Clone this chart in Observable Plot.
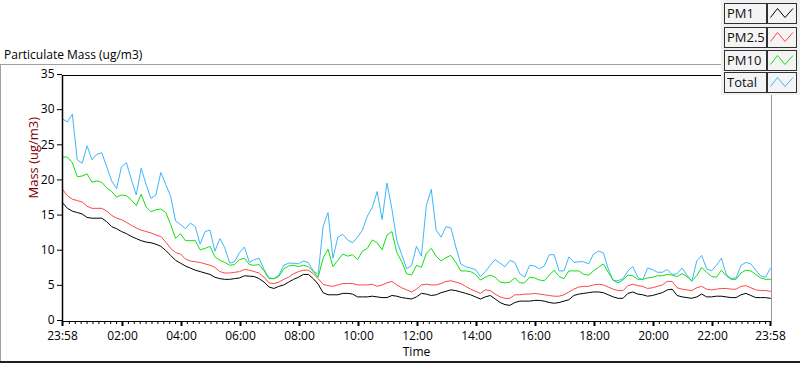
<!DOCTYPE html>
<html>
<head>
<meta charset="utf-8">
<script src="https://cdn.jsdelivr.net/npm/d3@7"></script>
<script src="https://cdn.jsdelivr.net/npm/@observablehq/plot@0.6"></script>
<style>
  html, body { margin: 0; padding: 0; background: #ffffff; }
  #wrap { position: relative; width: 800px; height: 365px; overflow: hidden; font-family: "Segoe UI", "Open Sans", sans-serif; }
  #chart { position: absolute; left: 0; top: 0; }
  .title { position: absolute; left: 4px; top: 46px; font-size: 12px; color: #000; white-space: nowrap; }
  .hline { position: absolute; background: #a0a0a0; }
  #legend { position: absolute; left: 721px; top: 0; width: 79px; height: 95px; background: #f0f0f0; }
  .lab { position: absolute; left: 3px; width: 39px; height: 19px; border: 1px solid #303030; background: #f4f4f4;
         font-size: 13px; line-height: 19px; padding-left: 2px; box-sizing: content-box; color: #111; }
  .sw { position: absolute; left: 46px; width: 28px; height: 19px; border: 1px solid #303030; background: #f4f4f4; }
  .sw svg { position: absolute; left: 0; top: 0; }
</style>
</head>
<body>
<div id="wrap">
  <div id="chart"></div>
  <div class="title">Particulate Mass (ug/m3)</div>
  <div class="hline" style="left:0;top:64px;width:721px;height:1px;"></div>
  <div class="hline" style="left:0;top:64px;width:1px;height:298px;"></div>
  <div class="hline" style="left:0;top:361px;width:800px;height:2px;background:#202020;"></div>
  <div id="legend"></div>
</div>
<script>
// ---- data (10-minute samples starting 23:58) ----
const startLabel = "23:58";
const stepMinutes = 10;
const seriesNames = ["PM1", "PM2.5", "PM10", "Total"];
const seriesColors = ["#000000", "#ff4646", "#10e010", "#3fb6fa"];

const pm1 = [
16.9,16.1,15.7,15.5,15.3,14.8,14.7,14.7,14.7,14.2,
13.5,13.2,12.8,12.5,12.1,11.8,11.5,11.3,11.2,11.0,
10.7,10.1,9.4,8.7,8.3,7.9,7.6,7.3,7.1,6.9,
6.7,6.3,6.1,6.0,6.0,6.1,6.2,6.5,6.45,6.4,
6.1,5.6,4.9,4.7,5.0,5.2,5.6,6.0,6.3,6.7,
6.7,6.1,5.3,4.1,3.8,3.8,3.8,4.0,4.0,3.9,
3.5,3.5,3.5,3.6,3.5,3.4,3.4,3.7,3.6,3.4,
3.3,3.2,3.5,4.0,3.9,3.7,3.8,4.1,4.3,4.5,
4.4,4.2,4.0,3.8,3.5,3.2,3.5,3.7,3.2,2.7,
2.4,2.3,2.7,2.9,2.9,2.9,3.0,3.0,2.9,2.7,
2.6,2.7,2.9,3.1,3.7,3.9,4.0,4.1,4.2,4.2,
4.1,3.8,3.5,3.3,3.3,4.0,4.2,3.9,3.8,3.6,
3.7,3.9,4.1,4.5,4.6,3.7,3.5,3.4,3.3,3.5,
3.9,3.5,3.5,3.6,3.6,3.5,3.4,3.4,3.8,4.0,
3.7,3.4,3.4,3.4,3.3];

const pm25 = [
18.8,17.9,17.4,17.2,17.0,16.4,16.1,16.1,16.1,15.7,
15.1,14.7,14.5,14.1,13.7,13.3,13.0,12.8,12.6,12.3,
12.1,11.3,10.4,9.8,9.6,8.9,8.6,8.5,8.4,8.2,
8.0,7.7,7.1,6.9,6.9,7.0,7.1,7.4,7.3,7.1,
6.9,6.3,5.5,5.4,5.6,6.0,6.3,6.8,7.1,7.3,
7.3,6.8,6.1,5.3,5.1,5.0,5.2,5.4,5.4,5.4,
5.2,5.2,5.2,5.3,5.0,5.2,5.5,5.7,5.2,4.8,
4.5,4.2,4.6,5.2,5.3,5.2,5.2,5.4,5.7,5.8,
5.6,5.4,5.0,4.6,4.3,4.0,4.5,4.4,3.9,3.5,
3.3,3.3,3.8,3.8,3.9,3.9,4.0,3.9,3.8,3.7,
3.6,3.6,3.8,4.2,4.6,4.9,5.0,5.0,5.2,5.3,
5.2,4.9,4.6,4.4,4.4,5.1,5.3,5.1,5.0,4.7,
4.8,5.0,5.2,5.7,5.7,4.8,4.6,4.5,4.4,4.8,
5.0,4.6,4.5,4.6,4.7,4.7,4.6,4.6,5.0,5.1,
4.8,4.5,4.4,4.4,4.3];

const pm10 = [
23.4,23.4,22.6,20.6,20.7,21.0,19.8,20.0,19.8,19.0,
18.5,17.7,18.0,17.9,17.3,16.5,18.1,16.3,15.6,15.9,
16.0,15.5,13.8,11.8,12.5,11.5,11.5,11.5,10.2,10.4,
10.7,9.2,8.7,8.4,8.0,8.1,8.8,9.0,8.1,8.0,
8.1,7.2,6.1,6.1,6.4,7.5,7.9,8.0,7.8,8.0,
7.8,7.1,6.3,9.0,10.3,7.8,8.7,9.6,9.3,9.5,
8.8,10.0,10.4,11.6,11.2,10.2,12.3,12.8,9.8,8.5,
6.8,6.6,8.0,7.7,9.7,10.4,9.3,8.6,9.1,9.4,
8.4,7.2,7.2,7.1,6.7,5.9,6.3,6.6,6.3,5.6,
5.5,5.6,6.2,5.5,5.5,6.3,6.2,5.9,5.8,6.6,
7.3,6.4,6.1,7.2,7.2,7.2,6.7,6.6,7.2,7.7,
8.2,7.0,5.9,5.5,5.9,6.6,6.5,6.0,6.0,6.2,
6.3,6.5,6.5,6.7,6.6,6.4,6.8,6.4,5.8,6.5,
7.7,7.0,6.4,6.3,7.3,6.5,6.0,6.0,6.9,7.3,
7.2,6.7,6.2,6.0,6.0];

const total = [
28.8,28.4,29.5,23.0,22.5,25.0,23.0,23.8,24.0,22.0,
20.0,18.9,22.0,22.6,20.2,18.0,21.8,19.5,17.5,18.0,
21.2,19.5,17.8,14.3,13.8,13.2,14.0,13.5,11.0,12.8,
13.0,10.0,11.8,10.5,8.3,8.5,9.8,10.6,8.4,8.8,
9.0,7.4,6.2,6.1,6.6,8.0,8.3,8.3,8.2,8.6,
8.4,7.2,6.7,13.5,15.5,9.0,12.0,12.4,11.6,11.2,
12.0,13.0,15.0,16.2,18.5,14.5,19.7,16.0,11.5,9.5,
7.5,8.0,10.7,9.3,16.5,18.8,13.0,12.0,13.5,13.3,
10.6,8.2,7.8,7.6,7.4,6.4,7.1,8.0,8.8,8.3,
7.8,8.7,8.4,6.8,6.3,8.0,7.9,7.5,7.9,9.5,
9.5,7.2,7.2,9.2,8.4,8.5,8.5,8.2,9.6,10.0,
9.8,7.5,5.8,5.8,6.1,7.2,7.8,6.3,5.9,7.6,
7.4,7.0,7.0,7.4,6.7,6.8,7.6,6.6,5.7,8.6,
9.4,7.5,7.2,8.0,9.0,6.7,6.1,6.2,8.0,8.4,
8.2,7.3,6.5,6.3,7.6];

const xTickLabels = ["23:58","02:00","04:00","06:00","08:00","10:00","12:00","14:00","16:00","18:00","20:00","22:00","23:58"];
const yTicks = [0, 5, 10, 15, 20, 25, 30, 35];
const yLabel = "Mass (ug/m3)";
const xLabel = "Time";

// ---- build ----
const MIN = 60000;
const start = new Date(Date.UTC(2024, 0, 1, 23, 58));
const end = new Date(start.getTime() + 24 * 60 * MIN);
const dayStart = Date.UTC(2024, 0, 2, 0, 0);

const rows = pm1.map((v, i) => ({
  t: new Date(start.getTime() + i * stepMinutes * MIN),
  pm1: v, pm25: pm25[i], pm10: pm10[i], total: total[i]
}));

const majorTicks = xTickLabels.map((s, i) => {
  if (i === 0) return start;
  if (i === xTickLabels.length - 1) return end;
  const [h, m] = s.split(":").map(Number);
  return new Date(dayStart + (h * 60 + m) * MIN);
});
const minorTicks = [];
for (let m = 12; m < 24 * 60; m += 12) {
  if (m % 120 !== 0) minorTicks.push(new Date(dayStart + m * MIN));
}

const chart = Plot.plot({
  width: 800,
  height: 365,
  marginLeft: 62,
  marginRight: 30,
  marginTop: 75,
  marginBottom: 44,
  style: { fontFamily: "'Segoe UI','Open Sans',sans-serif", fontSize: "12px", background: "transparent", color: "#000" },
  x: { type: "utc", domain: [start, end], label: null },
  y: { domain: [0, 35], label: null },
  marks: [
    Plot.ruleY([35], { stroke: "#000" }),
    Plot.ruleX([end], { stroke: "#9a9a9a", dx: 1 }),
    Plot.lineY(rows, { x: "t", y: "total", stroke: seriesColors[3], strokeWidth: 1 }),
    Plot.lineY(rows, { x: "t", y: "pm10", stroke: seriesColors[2], strokeWidth: 1 }),
    Plot.lineY(rows, { x: "t", y: "pm25", stroke: seriesColors[1], strokeWidth: 1 }),
    Plot.lineY(rows, { x: "t", y: "pm1", stroke: seriesColors[0], strokeWidth: 1 }),
    Plot.axisY({ ticks: yTicks, tickSize: 5, tickPadding: 3, label: null, fill: "#000", stroke: "#000", dy: -1 }),
    Plot.axisX({ ticks: minorTicks, tickSize: 3, text: null, label: null, stroke: "#000" }),
    Plot.axisX({ ticks: majorTicks, tickSize: 5, tickPadding: 5, tickFormat: (d, i) => xTickLabels[i], label: null, stroke: "#000", strokeWidth: 2, fill: "#000" }),
    Plot.ruleX([start], { stroke: "#000", strokeWidth: 1.5 }),
    Plot.ruleY([0], { stroke: "#000", strokeWidth: 1.2 }),
    Plot.text([yLabel], { frameAnchor: "left", dx: -29, rotate: -90, fill: "#800000", fontSize: 13 }),
    Plot.text([xLabel], { frameAnchor: "bottom", dy: 34, fill: "#000", fontSize: 12 })
  ]
});
document.getElementById("chart").appendChild(chart);

// ---- legend ----
const legend = document.getElementById("legend");
const rowTops = [3, 27, 50, 72];
seriesNames.forEach((name, i) => {
  const lab = document.createElement("div");
  lab.className = "lab";
  lab.style.top = rowTops[i] + "px";
  lab.textContent = name;
  legend.appendChild(lab);
  const sw = document.createElement("div");
  sw.className = "sw";
  sw.style.top = rowTops[i] + "px";
  sw.innerHTML = `<svg width="28" height="19"><polyline points="2.5,13.5 9.5,4.5 17,13.5 25,4.5" fill="none" stroke="${seriesColors[i]}" stroke-width="1"/></svg>`;
  legend.appendChild(sw);
});
</script>
</body>
</html>
